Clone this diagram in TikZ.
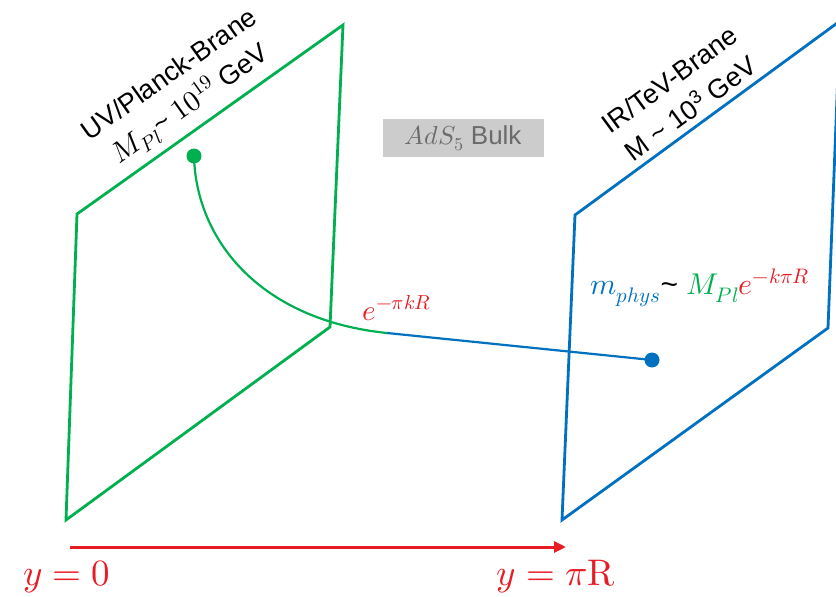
\documentclass[tikz,border=0pt]{standalone}
\usepackage{fontspec}
\usepackage{unicode-math}
\setmainfont{Liberation Sans}
\usetikzlibrary{arrows.meta}
\definecolor{brgreen}{RGB}{0,176,80}
\definecolor{brblue}{RGB}{0,112,192}
\definecolor{brred}{RGB}{232,28,36}
\begin{document}
\begin{tikzpicture}[x=1pt,y=-1pt,
  brane/.style={line width=2.8pt, line join=miter},
  link/.style={line width=2.2pt},
  dotnode/.style={circle, inner sep=0pt, minimum size=15pt},
  branelabel/.style={align=center, font=\fontsize{27}{36}\selectfont, inner sep=0pt},
  axislabel/.style={text=brred, font=\fontsize{37}{42}\selectfont, inner sep=0pt}]
\useasboundingbox (0,0) rectangle (836,597);
\clip (0,0) rectangle (836,597);
% UV brane
\coordinate (g1) at (343,25);
\coordinate (g2) at (77,214);
\coordinate (g3) at (66,520);
\coordinate (g4) at (330,327);
\draw[brane, brgreen] (g1) -- (g2) -- (g3) -- (g4) -- cycle;
% IR brane
\coordinate (b1) at (840,21);
\coordinate (b2) at (575,215);
\coordinate (b3) at (562,520);
\coordinate (b4) at (828,328);
\draw[brane, brblue] (b1) -- (b2) -- (b3) -- (b4) -- cycle;
% dots and path
\node[dotnode, fill=brgreen] (gd) at (194,156) {};
\node[dotnode, fill=brblue] (bd) at (652,360) {};
\coordinate (j2) at (387,333);
\draw[link, brgreen] (gd.center) .. controls (196,240) and (260,320) .. (j2);
\draw[link, brblue] (j2) -- (bd.center);
% labels
\node[branelabel, rotate=35.4] (uv) at (181,91)
  {UV/Planck-Brane\\{\fontsize{29}{36}\selectfont$M_{Pl}$}\textasciitilde{} {\fontsize{29}{36}\selectfont$10^{19}$} GeV};
\node[branelabel, rotate=36.3] (ir) at (680,94)
  {IR/TeV-Brane\\M \textasciitilde{} 10\textsuperscript{3} GeV};
\node[fill=black!20, text=black!58, minimum width=161pt, minimum height=38pt,
  font=\fontsize{26}{30}\selectfont] (bulk) at (463,138) {$AdS_5$ Bulk};
\node[text=brred, font=\fontsize{29}{32}\selectfont] (warp) at (397,308) {$e^{-\pi kR}$};
\node[font=\fontsize{30}{34}\selectfont] (mphys) at (700,288)
  {$\textcolor{brblue}{m_{phys}}$\textasciitilde{} $\textcolor{brgreen}{M_{Pl}}\textcolor{brred}{e^{-k\pi R}}$};
% axis
\coordinate (a0) at (70,547);
\coordinate (a1) at (566,547);
\draw[brred, line width=3pt, -{Triangle[length=12pt,width=11pt]}] (a0) -- (a1);
\node[axislabel] (y0) at (67,577) {$y=0$};
\node[axislabel] (ypr) at (556,577) {$y=\pi\symup{R}$};
\end{tikzpicture}
\end{document}
